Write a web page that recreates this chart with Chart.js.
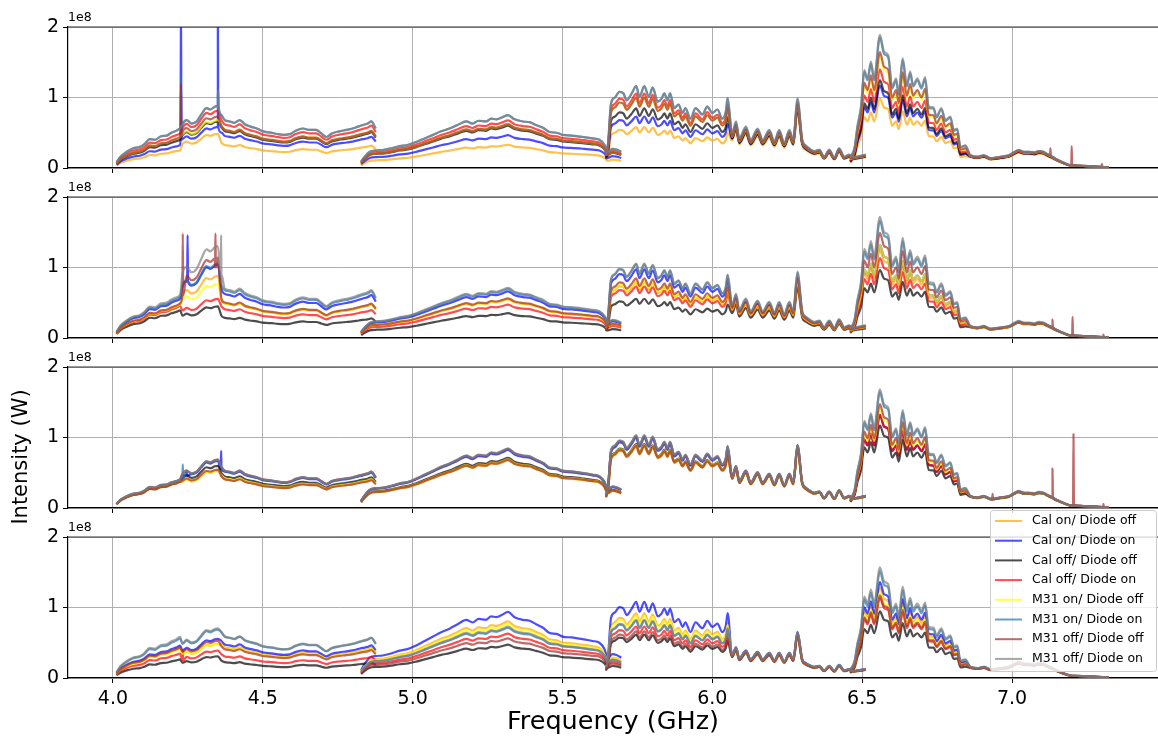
<!DOCTYPE html>
<html>
<head>
<meta charset="utf-8">
<script src="https://cdn.jsdelivr.net/npm/chart.js@4.4.1/dist/chart.umd.min.js"></script>
<style>
    html, body { margin: 0; padding: 0; background: #fff; }
    #wrap { position: relative; width: 1158px; height: 740px; overflow: hidden; }
    #wrap canvas { position: absolute; left: 0; }
</style>
</head>
<body>
<div id="wrap"></div>
<script>
// series (legend order)
const seriesLabels = [
    "Cal on/ Diode off", "Cal on/ Diode on", "Cal off/ Diode off", "Cal off/ Diode on",
    "M31 on/ Diode off", "M31 on/ Diode on", "M31 off/ Diode off", "M31 off/ Diode on",
];
const seriesColors = [
    "rgba(255,165,0,0.7)", "rgba(0,0,255,0.7)", "rgba(0,0,0,0.7)", "rgba(255,0,0,0.7)",
    "rgba(255,255,0,0.7)", "rgba(31,119,180,0.7)", "rgba(165,42,42,0.7)", "rgba(128,128,128,0.7)",
];

// band spectra, [GHz, 1e7 W]
const band1 = [
    [4.012, 0.8], [4.025, 1.6], [4.046, 2.3], [4.068, 2.8], [4.09, 3.0], [4.105, 3.4],
    [4.123, 4.1], [4.14, 4.0], [4.16, 4.5], [4.179, 4.6], [4.195, 5.0], [4.212, 5.3],
    [4.224, 5.6], [4.232, 6.2], [4.246, 6.8], [4.262, 6.3], [4.279, 6.6], [4.295, 7.6],
    [4.312, 8.5], [4.325, 8.3], [4.34, 8.7], [4.35, 8.8], [4.362, 7.5], [4.373, 6.8],
    [4.39, 6.6], [4.405, 6.4], [4.423, 6.8], [4.44, 6.2], [4.457, 5.9], [4.48, 5.6],
    [4.5, 5.2], [4.512, 5.1], [4.53, 5.0], [4.55, 4.8], [4.57, 4.7], [4.59, 4.8],
    [4.61, 5.3], [4.634, 5.6], [4.655, 5.4], [4.678, 5.4], [4.695, 4.9], [4.712, 4.4],
    [4.73, 4.9], [4.755, 5.2], [4.779, 5.4], [4.8, 5.6], [4.82, 5.9], [4.834, 6.1],
    [4.85, 6.3], [4.862, 6.6], [4.877, 5.6],
];
const band2 = [
    [4.828, 0.9], [4.84, 1.6], [4.857, 2.3], [4.88, 2.5], [4.9, 2.55], [4.93, 2.8],
    [4.957, 3.1], [4.985, 3.3], [5.012, 3.7], [5.04, 4.2], [5.068, 4.7], [5.095, 5.2],
    [5.123, 5.6], [5.15, 6.1], [5.179, 6.6], [5.2, 6.3], [5.22, 6.7], [5.245, 6.6],
    [5.262, 7.0], [5.279, 6.9], [5.3, 7.2], [5.318, 7.5], [5.34, 6.9], [5.368, 6.6],
    [5.39, 6.5], [5.412, 6.1], [5.435, 5.7], [5.457, 5.1], [5.48, 5.0], [5.5, 4.7],
    [5.53, 4.6], [5.568, 4.4], [5.6, 4.2], [5.623, 4.0], [5.64, 3.3], [5.651, 2.3],
    [5.667, 2.7], [5.68, 2.6], [5.696, 2.3],
];
const band3 = [
    [5.645, 2.0], [5.652, 3.5], [5.662, 9.2], [5.675, 10.0], [5.69, 10.8], [5.703, 10.6],
    [5.714, 9.6], [5.73, 10.5], [5.746, 11.6], [5.757, 10.1], [5.773, 11.6], [5.788, 10.1],
    [5.801, 11.4], [5.818, 9.4], [5.83, 9.8], [5.84, 10.6], [5.85, 9.6], [5.859, 10.6],
    [5.873, 8.5], [5.887, 9.0], [5.901, 7.8], [5.91, 8.5], [5.927, 7.0], [5.944, 8.5],
    [5.967, 7.6], [5.983, 8.7], [6.0, 7.8], [6.017, 8.3], [6.033, 7.0], [6.045, 8.0],
    [6.051, 9.9], [6.066, 4.9], [6.079, 6.6], [6.09, 4.2], [6.112, 5.9], [6.128, 4.0],
    [6.151, 5.6], [6.168, 4.0], [6.19, 5.4], [6.207, 3.8], [6.223, 5.4], [6.24, 3.6],
    [6.257, 5.4], [6.27, 4.0], [6.284, 9.9], [6.3, 4.0], [6.312, 3.2], [6.323, 2.8],
    [6.34, 2.4], [6.357, 2.6], [6.373, 1.6], [6.39, 2.6], [6.407, 1.5], [6.423, 2.8],
    [6.44, 1.6], [6.457, 1.9], [6.468, 1.5], [6.49, 1.7], [6.512, 1.9],
];
const band4 = [
    [6.46, 1.4], [6.475, 3.0], [6.484, 5.9], [6.496, 8.7], [6.507, 13.9], [6.518, 12.7],
    [6.529, 15.1], [6.54, 12.7], [6.559, 18.9], [6.573, 16.5], [6.587, 16.0], [6.6, 11.5],
    [6.613, 12.7], [6.622, 10.6], [6.635, 15.6], [6.649, 11.8], [6.66, 13.7], [6.67, 11.8],
    [6.684, 12.7], [6.698, 11.5], [6.71, 12.9], [6.722, 8.7], [6.738, 8.6], [6.748, 7.3],
    [6.764, 8.5], [6.778, 6.8], [6.794, 7.3], [6.806, 5.4], [6.817, 5.6], [6.828, 3.0],
    [6.844, 3.2], [6.861, 1.8], [6.884, 1.6], [6.906, 1.8], [6.928, 1.4], [6.961, 1.6],
    [6.989, 1.8], [7.005, 2.2], [7.022, 2.55], [7.04, 2.3], [7.056, 2.3], [7.075, 2.2],
    [7.089, 2.4], [7.105, 2.3], [7.117, 2.0], [7.135, 1.6], [7.15, 1.2], [7.17, 0.8],
    [7.194, 0.4], [7.215, 0.35], [7.239, 0.3], [7.28, 0.2], [7.322, 0.1],
];
const bands = [band1, band2, band3, band4];

// first segment of each band + split frequencies inside it
const bandSegments = [[0, [4.226, 4.355]], [3, []], [4, [6.055]], [6, [6.85]]];

// level of each series per segment, relative to the band spectra: [series][segment]
const gainsPanel1 = [
    [0.45, 0.55, 0.48, 0.44, 0.50, 0.80, 0.52, 0.85],
    [0.58, 0.66, 0.67, 0.62, 0.63, 0.85, 0.62, 0.90],
    [0.72, 0.75, 0.77, 0.80, 0.73, 0.86, 0.66, 0.90],
    [0.88, 0.92, 0.91, 0.90, 0.91, 0.93, 0.74, 0.93],
    [0.78, 0.77, 0.80, 0.83, 0.86, 0.90, 0.84, 0.95],
    [1.00, 1.00, 1.00, 1.00, 1.00, 0.98, 0.98, 1.00],
    [0.78, 0.83, 0.80, 0.83, 0.86, 0.92, 0.87, 0.97],
    [1.00, 1.00, 1.00, 1.00, 1.00, 1.00, 1.00, 1.00],
];
const gainsPanel2 = [
    [0.85, 1.00, 0.72, 0.73, 0.68, 0.82, 0.66, 0.88],
    [1.00, 1.18, 0.92, 0.88, 0.84, 0.85, 0.70, 0.90],
    [0.70, 0.51, 0.42, 0.47, 0.48, 0.72, 0.51, 0.85],
    [0.81, 0.63, 0.60, 0.63, 0.63, 0.80, 0.60, 0.88],
    [0.85, 0.87, 0.73, 0.74, 0.70, 0.82, 0.70, 0.88],
    [1.05, 1.20, 1.00, 0.93, 0.90, 0.93, 0.88, 0.92],
    [0.87, 1.30, 0.74, 0.75, 0.73, 0.87, 0.79, 0.90],
    [1.09, 1.48, 1.03, 0.95, 0.91, 0.95, 0.91, 0.95],
];
const gainsPanel3 = [
    [0.66, 0.60, 0.60, 0.90, 0.75, 0.84, 0.70, 0.88],
    [0.70, 0.76, 0.76, 1.10, 0.86, 0.88, 0.70, 0.90],
    [0.68, 0.68, 0.66, 0.95, 0.78, 0.85, 0.62, 0.88],
    [0.72, 0.78, 0.78, 1.12, 0.88, 0.90, 0.70, 0.92],
    [0.68, 0.60, 0.62, 0.92, 0.77, 0.85, 0.75, 0.90],
    [0.72, 0.77, 0.77, 1.12, 0.88, 0.90, 0.87, 0.93],
    [0.66, 0.62, 0.60, 0.91, 0.76, 0.85, 0.78, 0.92],
    [0.73, 0.78, 0.78, 1.13, 0.89, 0.90, 0.89, 0.95],
];
const gainsPanel4 = [
    [0.75, 0.55, 0.64, 1.07, 0.79, 0.64, 0.68, 0.85],
    [0.82, 0.63, 0.70, 1.25, 0.93, 0.66, 0.72, 0.87],
    [0.47, 0.35, 0.33, 0.63, 0.53, 0.60, 0.50, 0.80],
    [0.62, 0.44, 0.45, 0.84, 0.63, 0.62, 0.60, 0.82],
    [0.73, 0.55, 0.62, 1.02, 0.76, 0.63, 0.64, 0.84],
    [1.00, 0.78, 0.86, 0.95, 0.70, 0.65, 0.80, 0.86],
    [0.77, 0.60, 0.60, 0.75, 0.57, 0.62, 0.62, 0.82],
    [1.04, 0.80, 0.87, 0.97, 0.71, 0.66, 0.83, 0.88],
];
const gains = [gainsPanel1, gainsPanel2, gainsPanel3, gainsPanel4];

// RFI spikes: [panel, series, GHz, peak 1e7 W, base 1e7 W]
const spikes = [
    [0, 1, 4.227, 25, 4.0], [0, 5, 4.227, 13, 5.5], [0, 6, 4.227, 12, 4.5],
    [0, 1, 4.35, 25, 5.8], [0, 5, 4.35, 10.5, 8.8], [0, 7, 4.352, 11, 8.5],
    [0, 6, 7.128, 2.8, 1.8], [0, 6, 7.199, 3.1, 0.4], [0, 6, 7.3, 0.6, 0.15],
    [1, 6, 4.233, 14.8, 6.0], [1, 1, 4.249, 14.6, 8.0], [1, 6, 4.342, 14.8, 10.0],
    [1, 7, 4.361, 14.6, 9.0],
    [1, 6, 7.135, 2.6, 1.5], [1, 6, 7.202, 3.0, 0.4], [1, 6, 7.305, 0.5, 0.1],
    [2, 5, 4.233, 6.2, 4.2], [2, 1, 4.245, 5.3, 4.6], [2, 1, 4.361, 8.1, 5.5],
    [2, 6, 6.935, 2.0, 1.2], [2, 6, 7.135, 5.6, 1.5], [2, 6, 7.205, 10.5, 0.4],
    [2, 6, 7.305, 0.6, 0.1],
    [3, 3, 4.233, 4.0, 2.5],
];

const xTicks = [4.0, 4.5, 5.0, 5.5, 6.0, 6.5, 7.0];
const yTicks = [0, 1e8, 2e8];

const panelTops = [27, 197, 367, 537];
const panelBottoms = [168, 338, 508, 678];
const FONT = "'DejaVu Sans', sans-serif";

Chart.defaults.font.family = FONT;
Chart.defaults.color = "#000";

function segmentOf(bi, f) {
    const [start, splits] = bandSegments[bi];
    return start + splits.filter((s) => f > s).length;
}

function buildSeries(p, s) {
    const out = [];
    bands.forEach((band, bi) => {
        const lo = band[0][0];
        const hi = band[band.length - 1][0];
        const pts = band.map(([f, v]) => ({ x: f, y: v * gains[p][s][segmentOf(bi, f)] * 1e7 }));
        spikes
            .filter((k) => k[0] === p && k[1] === s && k[2] > lo && k[2] < hi)
            .forEach((k) => {
                pts.push({ x: k[2] - 0.0015, y: k[4] * 1e7 });
                pts.push({ x: k[2], y: k[3] * 1e7 });
                pts.push({ x: k[2] + 0.0015, y: k[4] * 1e7 });
            });
        pts.sort((a, b) => a.x - b.x);
        out.push(...pts, { x: hi, y: null });
    });
    return out;
}

// top spine + "1e8" offset text
const frame = {
    id: "frame",
    afterDraw(chart) {
        const { ctx, chartArea } = chart;
        ctx.save();
        ctx.strokeStyle = "#333";
        ctx.lineWidth = 1.2;
        ctx.beginPath();
        ctx.moveTo(chartArea.left, chartArea.top);
        ctx.lineTo(chartArea.right, chartArea.top);
        ctx.stroke();
        ctx.fillStyle = "#000";
        ctx.font = "12.5px " + FONT;
        ctx.textBaseline = "bottom";
        ctx.textAlign = "left";
        ctx.fillText("1e8", chartArea.left, chartArea.top - 3);
        ctx.restore();
    },
};

// y label, sits beside the third panel
const yLabel = {
    id: "yLabel",
    afterDraw(chart) {
        const ctx = chart.ctx;
        ctx.save();
        ctx.translate(22, 457 - chart.canvas._absTop);
        ctx.rotate(-Math.PI / 2);
        ctx.fillStyle = "#000";
        ctx.font = "21px " + FONT;
        ctx.textAlign = "center";
        ctx.textBaseline = "middle";
        ctx.fillText("Intensity (W)", 0, 0);
        ctx.restore();
    },
};

// legend box drawn inside the bottom panel
const legendBox = {
    id: "legendBox",
    afterDraw(chart) {
        const ctx = chart.ctx;
        const top = chart.canvas._absTop;
        const x0 = 990, y0 = 510 - top, w = 166, h = 161;
        ctx.save();
        ctx.fillStyle = "rgba(255,255,255,0.8)";
        ctx.strokeStyle = "#cccccc";
        ctx.lineWidth = 1;
        ctx.beginPath();
        ctx.roundRect(x0 + 0.5, y0 + 0.5, w, h, 3);
        ctx.fill();
        ctx.stroke();
        ctx.font = "12.5px " + FONT;
        ctx.textBaseline = "middle";
        ctx.textAlign = "left";
        chart.data.datasets.forEach((ds, i) => {
            const y = y0 + 11 + i * 19.7;
            ctx.strokeStyle = ds.borderColor;
            ctx.lineWidth = 2;
            ctx.beginPath();
            ctx.moveTo(995, y);
            ctx.lineTo(1022, y);
            ctx.stroke();
            ctx.fillStyle = "#000";
            ctx.fillText(ds.label, 1032, y);
        });
        ctx.restore();
    },
};

const wrap = document.getElementById("wrap");

for (let p = 0; p < 4; p++) {
    const last = p === 3;
    const absTop = last ? 500 : panelTops[p] - 27;
    const padTop = panelTops[p] - absTop;
    const xHeight = last ? 740 - panelBottoms[p] : 6;
    const padBottom = last ? 0 : 20;
    const height = panelBottoms[p] - absTop + xHeight + padBottom;

    const canvas = document.createElement("canvas");
    canvas.width = 1158;
    canvas.height = height;
    canvas.style.top = absTop + "px";
    canvas._absTop = absTop;
    wrap.appendChild(canvas);

    const datasets = seriesLabels.map((label, s) => ({
        label: label,
        data: buildSeries(p, s),
        borderColor: seriesColors[s],
        borderWidth: 2.2,
        borderJoinStyle: "round",
        pointRadius: 0,
        cubicInterpolationMode: "monotone",
        fill: false,
        spanGaps: false,
        order: 7 - s,
    }));

    const plugins = [frame];
    if (p === 2) plugins.push(yLabel);
    if (last) plugins.push(legendBox);

    new Chart(canvas, {
        type: "line",
        data: { datasets },
        options: {
            responsive: false,
            animation: false,
            events: [],
            layout: { padding: { top: padTop, left: 0, right: 0, bottom: padBottom } },
            plugins: {
                legend: { display: false },
                tooltip: { enabled: false },
            },
            scales: {
                x: {
                    type: "linear",
                    min: 3.85,
                    max: 7.487,
                    afterBuildTicks: (scale) => {
                        scale.ticks = xTicks.map((v) => ({ value: v }));
                    },
                    afterFit: (scale) => {
                        scale.height = xHeight;
                    },
                    ticks: {
                        display: last,
                        maxRotation: 0,
                        autoSkip: false,
                        padding: 5,
                        font: { size: 19 },
                        color: "#000",
                        callback: (v) => v.toFixed(1),
                    },
                    grid: { color: "#b0b0b0", lineWidth: 1, tickColor: "#000", tickLength: 5 },
                    border: { color: "#000", width: 1.2 },
                    title: {
                        display: last,
                        text: "Frequency (GHz)",
                        font: { size: 25.5 },
                        color: "#000",
                        padding: { top: 4, bottom: 2 },
                    },
                },
                y: {
                    min: 0,
                    max: 2e8,
                    afterBuildTicks: (scale) => {
                        scale.ticks = yTicks.map((v) => ({ value: v }));
                    },
                    afterFit: (scale) => {
                        scale.width = 68;
                    },
                    ticks: {
                        padding: 4,
                        font: { size: 19 },
                        color: "#000",
                        callback: (v) => String(v / 1e8),
                    },
                    grid: { color: "#b0b0b0", lineWidth: 1, tickColor: "#000", tickLength: 5 },
                    border: { color: "#000", width: 1.2 },
                },
            },
        },
        plugins: plugins,
    });
}
</script>
</body>
</html>
